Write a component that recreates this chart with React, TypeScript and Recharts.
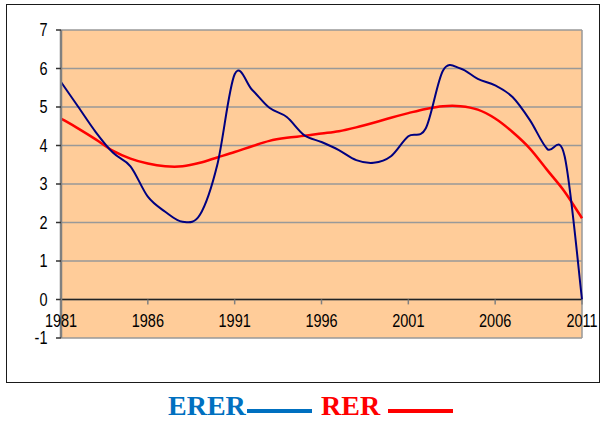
import React from "react";
import { LineChart, Line, XAxis, YAxis, CartesianGrid, ReferenceLine } from "recharts";

const years = [1981,1982,1983,1984,1985,1986,1987,1988,1989,1990,1991,1992,1993,1994,1995,1996,1997,1998,1999,2000,2001,2002,2003,2004,2005,2006,2007,2008,2009,2010,2011];
const ererValues = [5.65,5.0,4.35,3.81,3.46,2.67,2.28,2.02,2.2,3.5,5.85,5.45,4.98,4.74,4.27,4.09,3.88,3.62,3.55,3.72,4.24,4.44,5.95,6.0,5.73,5.56,5.26,4.66,3.91,3.72,0];
const rerValues = [4.7,4.44,4.16,3.86,3.66,3.53,3.46,3.46,3.55,3.69,3.83,3.98,4.12,4.2,4.25,4.31,4.37,4.47,4.59,4.72,4.84,4.95,5.02,5.02,4.93,4.7,4.35,3.92,3.36,2.8,2.11];
const xTicks = [1981,1986,1991,1996,2001,2006,2011];
const yTicks = [-1,0,1,2,3,4,5,6,7];

const data = years.map((y, i) => ({ year: y, ERER: ererValues[i], RER: rerValues[i] }));

const FONT = "'Liberation Sans', Arial, sans-serif";

// Catmull-Rom style smoothing (similar to Excel smoothed lines)
const smoothCurve: any = (context: any) => {
  let pts: number[][] = [];
  return {
    areaStart() {},
    areaEnd() {},
    lineStart() { pts = []; },
    point(x: number, y: number) { pts.push([+x, +y]); },
    lineEnd() {
      if (!pts.length) return;
      context.moveTo(pts[0][0], pts[0][1]);
      for (let i = 0; i < pts.length - 1; i++) {
        const p0 = pts[i - 1] || pts[i];
        const p1 = pts[i];
        const p2 = pts[i + 1];
        const p3 = pts[i + 2] || p2;
        context.bezierCurveTo(
          p1[0] + (p2[0] - p0[0]) / 6, p1[1] + (p2[1] - p0[1]) / 6,
          p2[0] - (p3[0] - p1[0]) / 6, p2[1] - (p3[1] - p1[1]) / 6,
          p2[0], p2[1]
        );
      }
    },
  };
};

const XTick = (props: any) => {
  const { x, y, payload } = props;
  const y0 = y - 38.6 - 8;
  return (
    <g>
      <line x1={x} x2={x} y1={y0} y2={y0 + 5} stroke="#808080" strokeWidth={1.5} />
      <g transform={`translate(${x},${y0 + 21}) scale(1,1.28)`}>
        <text x={0} y={0} textAnchor="middle" dominantBaseline="central" fontFamily={FONT} fontSize={14.5} fill="#000">
          {payload.value}
        </text>
      </g>
    </g>
  );
};

const YTick = (props: any) => {
  const { x, y, payload } = props;
  return (
    <g transform={`translate(${x - 6.5},${y}) scale(1,1.28)`}>
      <text x={0} y={0} textAnchor="end" dominantBaseline="central" fontFamily={FONT} fontSize={14.5} fill="#000">
        {payload.value}
      </text>
    </g>
  );
};

export default function App() {
  return (
    <div style={{ position: "absolute", left: 0, top: 0, width: 602, height: 421, background: "#fff" }}>
      <div style={{ position: "absolute", left: 6, top: 4, width: 594, height: 379, border: "1.5px solid #1a1a1a", boxSizing: "border-box" }} />
      <div style={{ position: "absolute", left: 0, top: 0 }}>
        <LineChart width={602} height={421} data={data} margin={{ top: 30, right: 20, left: 0, bottom: 53 }}>
          <CartesianGrid vertical={false} horizontal fill="#FFCC99" stroke="#999999" strokeWidth={1.5} horizontalValues={yTicks} />
          <XAxis
            dataKey="year"
            type="number"
            domain={[1981, 2011]}
            ticks={xTicks}
            interval={0}
            axisLine={false}
            tickLine={false}
            height={30}
            tick={<XTick />}
          />
          <YAxis
            type="number"
            domain={[-1, 7]}
            ticks={yTicks}
            interval={0}
            width={61}
            axisLine={{ stroke: "#808080", strokeWidth: 2.5 }}
            tickLine={{ stroke: "#333", strokeWidth: 1.5 }}
            tickSize={5}
            tick={<YTick />}
          />
          <ReferenceLine x={2011} stroke="#999999" strokeWidth={1.5} ifOverflow="extendDomain" />
          <ReferenceLine y={0} stroke="#222" strokeWidth={1.5} />
          <Line dataKey="RER" type={smoothCurve} stroke="#FF0000" strokeWidth={2.5} dot={false} isAnimationActive={false} />
          <Line dataKey="ERER" type={smoothCurve} stroke="#000080" strokeWidth={2} dot={false} isAnimationActive={false} />
        </LineChart>
      </div>
      <div style={{ position: "absolute", left: 168, top: 391.5, fontFamily: "'Liberation Serif', 'Times New Roman', serif", fontWeight: "bold", fontSize: 28, lineHeight: "28px", color: "#0070C0", whiteSpace: "nowrap" }}>ERER</div>
      <div style={{ position: "absolute", left: 247, top: 409, width: 65, height: 4, background: "#0070C0" }} />
      <div style={{ position: "absolute", left: 321, top: 391.5, fontFamily: "'Liberation Serif', 'Times New Roman', serif", fontWeight: "bold", fontSize: 28, lineHeight: "28px", color: "#FF0000", whiteSpace: "nowrap" }}>RER</div>
      <div style={{ position: "absolute", left: 388, top: 409, width: 65, height: 4, background: "#FF0000" }} />
    </div>
  );
}
